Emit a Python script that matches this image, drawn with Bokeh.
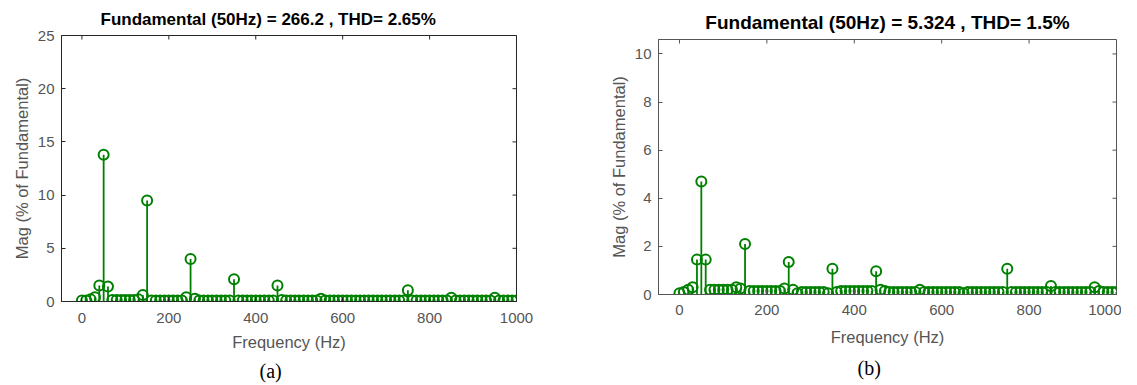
from bokeh.plotting import figure
from bokeh.models import Range1d, FixedTicker, Title, ColumnDataSource, Spacer
from bokeh.layouts import row, column
from bokeh.embed import file_html
from bokeh.resources import INLINE

# Frequency grid (Hz)
freq = [0, 10, 20, 30, 40, 50, 60, 70, 80, 90, 100, 110, 120, 130, 140, 150, 160, 170, 180, 190,
        200, 210, 220, 230, 240, 250, 260, 270, 280, 290, 300, 310, 320, 330, 340, 350, 360, 370, 380, 390,
        400, 410, 420, 430, 440, 450, 460, 470, 480, 490, 500, 510, 520, 530, 540, 550, 560, 570, 580, 590,
        600, 610, 620, 630, 640, 650, 660, 670, 680, 690, 700, 710, 720, 730, 740, 750, 760, 770, 780, 790,
        800, 810, 820, 830, 840, 850, 860, 870, 880, 890, 900, 910, 920, 930, 940, 950, 960, 970, 980, 990, 1000]

# (a) magnitudes, % of fundamental
mag_a = [0.1, 0.1, 0.2, 0.4, 1.5, 13.8, 1.4, 0.15, 0.15, 0.15, 0.15, 0.15, 0.15, 0.2, 0.6, 9.5, 0.1, 0.1, 0.1, 0.1,
         0.1, 0.1, 0.1, 0.1, 0.4, 4.0, 0.25, 0.1, 0.1, 0.1, 0.1, 0.1, 0.1, 0.1, 0.1, 2.1, 0.1, 0.1, 0.1, 0.1,
         0.1, 0.1, 0.1, 0.1, 0.1, 1.5, 0.15, 0.1, 0.1, 0.1, 0.1, 0.1, 0.1, 0.1, 0.1, 0.25, 0.1, 0.1, 0.1, 0.1,
         0.1, 0.1, 0.1, 0.1, 0.1, 0.1, 0.1, 0.1, 0.1, 0.1, 0.1, 0.1, 0.1, 0.1, 0.1, 1.05, 0.1, 0.1, 0.1, 0.1,
         0.1, 0.1, 0.1, 0.1, 0.1, 0.35, 0.1, 0.1, 0.1, 0.1, 0.1, 0.1, 0.1, 0.1, 0.1, 0.35, 0.1, 0.1, 0.1, 0.1, 0.1]

# (b) magnitudes, % of fundamental
mag_b = [0.05, 0.1, 0.2, 0.3, 1.45, 4.7, 1.45, 0.2, 0.2, 0.2, 0.2, 0.2, 0.2, 0.3, 0.25, 2.1, 0.15, 0.15, 0.15, 0.15,
         0.15, 0.15, 0.15, 0.15, 0.25, 1.35, 0.2, 0.05, 0.1, 0.1, 0.1, 0.1, 0.1, 0.1, 0.05, 1.07, 0.1, 0.15, 0.15, 0.15,
         0.15, 0.15, 0.15, 0.15, 0.15, 0.97, 0.2, 0.15, 0.1, 0.1, 0.1, 0.1, 0.1, 0.1, 0.1, 0.2, 0.1, 0.1, 0.1, 0.1,
         0.1, 0.1, 0.1, 0.1, 0.1, 0.05, 0.1, 0.1, 0.1, 0.1, 0.1, 0.1, 0.1, 0.1, 0.1, 1.07, 0.1, 0.1, 0.1, 0.1,
         0.1, 0.1, 0.1, 0.1, 0.1, 0.35, 0.1, 0.1, 0.1, 0.1, 0.1, 0.1, 0.1, 0.1, 0.1, 0.3, 0.15, 0.1, 0.1, 0.1, 0.1]

x_ticks = [0, 200, 400, 600, 800, 1000]
y_ticks_a = [0, 5, 10, 15, 20, 25]
y_ticks_b = [0, 2, 4, 6, 8, 10]

title_a = "Fundamental (50Hz) = 266.2 , THD= 2.65%"
title_b = "Fundamental (50Hz) = 5.324 , THD= 1.5%"
xlabel = "Frequency (Hz)"
ylabel = "Mag (% of Fundamental)"

GREEN = "#008000"
SANS = "Liberation Sans"
TICK_PX = 4


def panel(mag, title, caption, ymax, yticks, box_color, fw, fh, bl, br, bt, bb,
          title_size, title_align, title_offset, title_standoff,
          xtick_standoff, xlabel_standoff, cap_offset, cap_standoff, xmin):
    p = figure(frame_width=fw, frame_height=fh, output_backend="svg", toolbar_location=None,
               x_range=Range1d(xmin, 1000), y_range=Range1d(0, ymax),
               min_border_left=bl, min_border_right=br, min_border_top=bt, min_border_bottom=bb)
    p.xgrid.visible = False
    p.ygrid.visible = False
    p.outline_line_color = box_color
    p.outline_line_width = 1
    p.background_fill_color = "white"
    p.border_fill_color = "white"

    # inward tick marks on the top and right edges of the box
    dy = TICK_PX * ymax / fh
    dx = TICK_PX * (1000 - xmin) / fw
    p.segment(x0=x_ticks, y0=[ymax] * len(x_ticks), x1=x_ticks, y1=[ymax - dy] * len(x_ticks),
              line_color=box_color, line_width=1)
    p.segment(x0=[1000] * len(yticks), y0=yticks, x1=[1000 - dx] * len(yticks), y1=yticks,
              line_color=box_color, line_width=1)

    src = ColumnDataSource(dict(f=freq, m=mag, z=[0] * len(freq)))
    p.segment(x0="f", y0="z", x1="f", y1="m", source=src, line_color=GREEN, line_width=1.8)
    p.scatter(x="f", y="m", source=src, marker="circle", size=10, fill_color=None,
              line_color=GREEN, line_width=2)

    for ax in (p.xaxis[0], p.yaxis[0]):
        ax.axis_line_color = box_color
        ax.major_tick_line_color = box_color
        ax.major_tick_in = TICK_PX
        ax.major_tick_out = 0
        ax.minor_tick_line_color = None
        ax.major_label_text_font = SANS
        ax.major_label_text_font_size = "15px"
        ax.major_label_text_color = "#555555"
        ax.axis_label_text_font = SANS
        ax.axis_label_text_font_size = "16.5px"
        ax.axis_label_text_font_style = "normal"
        ax.axis_label_text_color = "#555555"
        ax.major_label_standoff = 7
        ax.axis_label_standoff = 4

    p.xaxis[0].major_label_standoff = xtick_standoff
    p.xaxis[0].axis_label_standoff = xlabel_standoff
    p.xaxis[0].ticker = FixedTicker(ticks=x_ticks)
    p.yaxis[0].ticker = FixedTicker(ticks=yticks)
    p.xaxis[0].axis_label = xlabel
    p.yaxis[0].axis_label = ylabel

    p.title = Title(text=title, align=title_align, offset=title_offset, text_font=SANS,
                    text_font_size=title_size, text_font_style="bold", text_color="#000000",
                    standoff=title_standoff)

    p.add_layout(Title(text=caption, align="left", text_font="Liberation Serif",
                       text_font_size="20px", text_font_style="normal", text_color="#000000",
                       offset=cap_offset, standoff=cap_standoff), "below")
    return p


p1 = panel(mag_a, title_a, "(a)", 25, y_ticks_a, "#262626",
           fw=455, fh=266, bl=61, br=40, bt=34, bb=85,
           title_size="17px", title_align="left", title_offset=39, title_standoff=14,
           xtick_standoff=11, xlabel_standoff=7, cap_offset=198, cap_standoff=8, xmin=-47)
p2 = panel(mag_b, title_b, "(b)", 10.6, y_ticks_b, "#555555",
           fw=458, fh=255, bl=102, br=5, bt=35, bb=92,
           title_size="19px", title_align="center", title_offset=0, title_standoff=13,
           xtick_standoff=10, xlabel_standoff=10, cap_offset=199, cap_standoff=13, xmin=-48)

layout = row(p1, column(Spacer(height=3), p2, spacing=0), spacing=0)
open("out.html", "w").write(file_html(layout, INLINE))
